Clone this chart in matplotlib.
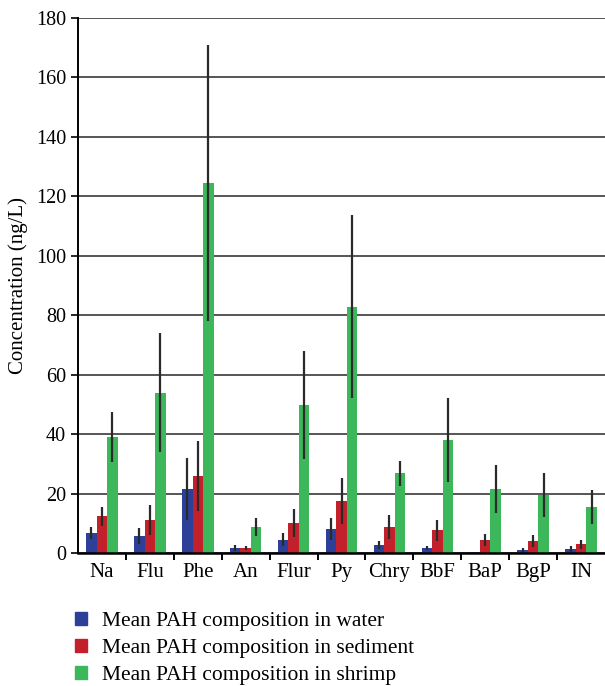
import numpy as np
import matplotlib.pyplot as plt
from matplotlib.patches import Patch

compounds = ['Na', 'Flu', 'Phe', 'An', 'Flur', 'Py', 'Chry', 'BbF', 'BaP', 'BgP', 'IN']

water = [6.7, 5.7, 21.5, 1.7, 4.4, 8.1, 2.7, 1.7, 0.3, 1.0, 1.3]
water_err = [1.9, 2.8, 10.3, 1.0, 2.2, 3.8, 1.2, 0.8, 0.2, 0.7, 0.9]

sediment = [12.4, 11.1, 25.9, 1.7, 10.1, 17.5, 8.8, 7.7, 4.4, 4.0, 3.0]
sediment_err = [3.2, 5.0, 11.7, 0.7, 4.7, 7.8, 4.0, 3.5, 2.0, 2.0, 1.5]

shrimp = [39.0, 53.9, 124.5, 8.8, 49.8, 82.9, 26.9, 38.0, 21.5, 19.5, 15.5]
shrimp_err = [8.5, 20.0, 46.5, 3.0, 18.3, 30.8, 4.2, 14.0, 8.1, 7.3, 5.8]

labels = ['Mean PAH composition in water',
          'Mean PAH composition in sediment',
          'Mean PAH composition in shrimp']
colors = ['#2c409a', '#c2202b', '#3cb85a']

plt.rcParams['font.family'] = ['Liberation Serif', 'DejaVu Serif']

fig = plt.figure(figsize=(6.05, 6.86), dpi=100)
ax = fig.add_axes([78/605, 1 - 553/686, 1 - 78/605, (553 - 18)/686])

x = np.arange(len(compounds))
w = 0.22
series = [(water, water_err), (sediment, sediment_err), (shrimp, shrimp_err)]
for i, (vals, errs) in enumerate(series):
    ax.bar(x + (i - 1) * w, vals, w, color=colors[i], zorder=2)
    ax.errorbar(x + (i - 1) * w, vals, yerr=errs, fmt='none', ecolor='#2a2a2a',
                elinewidth=1.6, capsize=0, zorder=3)

ax.set_xlim(-0.5, len(compounds) - 0.5)
ax.set_ylim(0, 180)
ax.set_yticks(np.arange(0, 181, 20))
ax.yaxis.grid(True, color='#555555', linewidth=1.4, zorder=0)
ax.set_axisbelow(True)

ax.set_xticks(x)
ax.set_xticklabels(compounds, fontsize=15)
ax.set_xticks(np.arange(0.5, len(compounds) - 1, 1), minor=True)
ax.tick_params(axis='x', which='major', length=0, pad=7)
ax.tick_params(axis='x', which='minor', length=5, width=1.4, direction='out', color='black')
ax.tick_params(axis='y', labelsize=14.5, length=5, width=1.2, direction='out', color='black')

for s in ['top', 'right']:
    ax.spines[s].set_visible(False)
ax.spines['left'].set_linewidth(1.4)
ax.spines['bottom'].set_linewidth(1.8)
ax.spines['bottom'].set_zorder(4)

ax.set_ylabel('Concentration (ng/L)', fontsize=15, labelpad=6)

handles = [Patch(color=c) for c in colors]
fig.legend(handles, labels, loc='upper left', bbox_to_anchor=(75/605, 1 - 612/686),
           frameon=False, fontsize=15.5, handlelength=0.55, handleheight=0.55,
           handletextpad=0.7, labelspacing=0.36, borderpad=0, borderaxespad=0)

fig.savefig('out.png', dpi=100)
